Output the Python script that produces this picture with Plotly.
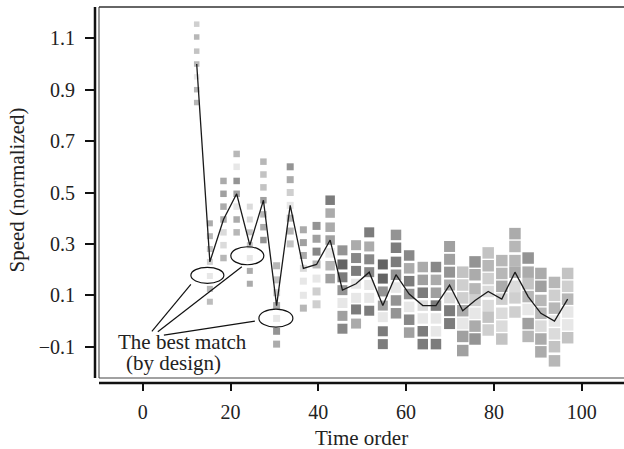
import plotly.graph_objects as go

# ---------------- data ----------------
time = [12.3, 15.3, 18.4, 21.4, 24.4, 27.5, 30.5, 33.6, 36.6, 39.6, 42.7, 45.5, 48.6, 51.6,
        54.7, 57.7, 60.7, 63.8, 66.8, 69.9, 72.9, 75.7, 78.7, 81.8, 84.8, 87.8, 90.7, 93.8, 96.8]

# candidate squares of each column, from top (row1) to bottom (row7)
row1 = [1.155, 0.38, 0.545, 0.65, 0.445, 0.62, 0.215, 0.60, 0.355, 0.37, 0.47, 0.275, 0.295, 0.345,
        0.22, 0.335, 0.255, 0.21, 0.21, 0.29, 0.19, 0.23, 0.265, 0.235, 0.34, 0.245, 0.185, 0.15, None]
row2 = [1.105, 0.33, 0.495, 0.60, 0.395, 0.57, 0.16, 0.55, 0.305, 0.32, 0.42, 0.22, 0.245, 0.29,
        0.165, 0.285, 0.205, 0.16, 0.16, 0.24, 0.14, 0.18, 0.215, 0.185, 0.29, 0.19, 0.135, 0.10, 0.185]
row3 = [1.05, 0.28, 0.445, 0.545, 0.345, 0.52, 0.11, 0.50, 0.255, 0.27, 0.365, 0.17, 0.195, 0.24,
        0.115, 0.23, 0.155, 0.11, 0.11, 0.19, 0.09, 0.125, 0.165, 0.135, 0.235, 0.145, 0.08, 0.05, 0.135]
row4 = [1.0, 0.23, 0.395, 0.495, 0.295, 0.47, 0.06, 0.45, 0.205, 0.22, 0.315, 0.12, 0.145, 0.19,
        0.06, 0.18, 0.105, 0.06, 0.06, 0.14, 0.04, 0.08, 0.115, 0.085, 0.19, 0.095, 0.03, 0.0, 0.085]
row5 = [0.95, 0.175, 0.345, 0.445, 0.245, 0.415, 0.01, 0.40, 0.155, 0.165, 0.265, 0.07, 0.09, 0.14,
        0.015, 0.13, 0.055, 0.01, 0.01, 0.09, -0.01, 0.03, 0.06, 0.03, 0.135, 0.045, -0.02, -0.05, 0.035]
row6 = [0.90, 0.125, 0.295, 0.395, 0.195, 0.365, -0.04, 0.35, 0.10, 0.115, 0.215, 0.02, 0.045, 0.09,
        -0.04, 0.08, 0.005, -0.04, -0.04, 0.04, -0.06, -0.02, 0.015, -0.02, 0.09, -0.01, -0.07, -0.10, -0.015]
row7 = [0.85, 0.075, 0.245, 0.345, 0.145, 0.315, -0.09, 0.30, 0.05, 0.065, 0.165, -0.03, -0.01, 0.04,
        -0.09, 0.03, -0.045, -0.09, -0.09, -0.01, -0.115, -0.07, -0.035, -0.07, 0.035, -0.06, -0.12, -0.155, -0.065]

# line through the selected candidate of each column
selected = row4

# grey shade of each square (0-255)
shade1 = [187, 136, 136, 153, 204, 153, 153, 102, 136, 102, 68, 102, 136, 68, 34, 102, 85, 136, 85, 119,
          170, 102, 170, 153, 136, 102, 136, 153, 170]
shade2 = [153, 153, 119, 221, 204, 170, 170, 136, 119, 119, 136, 34, 85, 136, 34, 68, 136, 119, 136, 119,
          187, 136, 153, 153, 153, 136, 119, 187, 170]
shade3 = [170, 170, 136, 102, 170, 170, 187, 187, 136, 85, 136, 68, 68, 85, 102, 68, 68, 68, 119, 102,
          187, 153, 187, 136, 153, 170, 153, 153, 187]
shade4 = [153, 187, 136, 119, 170, 119, 136, 221, 204, 153, 119, 102, 221, 85, 119, 102, 102, 204, 68, 136,
          136, 187, 204, 187, 136, 153, 153, 221, 153]
shade5 = [221, 221, 204, 221, 221, 153, 221, 153, 221, 221, 221, 221, 221, 221, 221, 221, 221, 221, 221, 204,
          221, 221, 204, 204, 204, 221, 204, 204, 221]
shade6 = [153, 153, 204, 136, 136, 136, 102, 153, 221, 187, 153, 119, 68, 221, 68, 102, 85, 68, 221, 68,
          119, 136, 170, 204, 187, 119, 136, 170, 221]
shade7 = [153, 160, 153, 153, 136, 102, 136, 170, 153, 187, 119, 85, 136, 68, 68, 102, 119, 68, 68, 68,
          119, 102, 187, 170, 187, 153, 136, 153, 170]

x_ticks = [0, 20, 40, 60, 80, 100]
y_ticks = [-0.1, 0.1, 0.3, 0.5, 0.7, 0.9, 1.1]
y_ticktext = ["\u22120.1", "0.1", "0.3", "0.5", "0.7", "0.9", "1.1"]

# ---------------- style ----------------
square_px = [5.5, 6, 6.5, 6.5, 6, 6.5, 7, 7, 7, 8, 9.5, 10, 10, 10, 10, 10.5, 10.5, 10.5, 10.5, 11,
             11.5, 11.5, 11.5, 11.5, 11.5, 11.5, 11.5, 11.5, 11.5]
FONT = "Liberation Serif, Times New Roman, serif"
TXT = "#222222"

rows = [row1, row2, row3, row4, row5, row6, row7]
shades = [shade1, shade2, shade3, shade4, shade5, shade6, shade7]

fig = go.Figure()
for r, s in zip(rows, shades):
    fig.add_trace(go.Scatter(
        x=time, y=r, mode="markers", hoverinfo="skip", showlegend=False,
        marker=dict(symbol="square", size=square_px,
                    color=[f"rgb({g},{g},{g})" for g in s], line=dict(width=0)),
    ))

fig.add_trace(go.Scatter(x=time, y=selected, mode="lines", showlegend=False,
                         line=dict(color="#1a1a1a", width=1.3)))

# geometry of plot area in pixels
W, H = 624, 449
L, R, T, B = 95, 0, 7, 66
pw, ph = W - L - R, H - T - B
box_dx = 4 / pw   # inner thin frame offset
box_dy = 5 / ph

shapes = [
    # thick axis lines
    dict(type="line", xref="paper", yref="paper", x0=0, x1=0, y0=box_dy, y1=1,
         line=dict(color="#111", width=2.5)),
    dict(type="line", xref="paper", yref="paper", x0=box_dx, x1=1, y0=0, y1=0,
         line=dict(color="#111", width=2.5)),
    # thin frame
    dict(type="line", xref="paper", yref="paper", x0=box_dx, x1=box_dx, y0=box_dy, y1=1,
         line=dict(color="#444", width=1.1)),
    dict(type="line", xref="paper", yref="paper", x0=box_dx, x1=1, y0=box_dy, y1=box_dy,
         line=dict(color="#444", width=1.1)),
    dict(type="line", xref="paper", yref="paper", x0=box_dx, x1=1, y0=1, y1=1,
         line=dict(color="#333", width=1.6)),
]

# ellipses around the designed best matches and leader lines (pixel offsets from the square)
marks = [
    (1, (-19, 14, -7.3, 8.7), (-58, -55.3, -19, -8.3)),
    (4, (-19, 14, -6.7, 11.3), (-92, -73.7, -8, -8.7)),
    (6, (-17.7, 16.3, -8.7, 9.3), (-112.7, -16.7, -21.7, -2.7)),
]
for idx, (ex0, ex1, ey0, ey1), (lx0, ly0, lx1, ly1) in marks:
    ax, ay = time[idx], row5[idx]
    shapes.append(dict(type="circle", xref="x", yref="y", xsizemode="pixel", ysizemode="pixel",
                       xanchor=ax, yanchor=ay, x0=ex0, x1=ex1, y0=ey0, y1=ey1,
                       line=dict(color="#111", width=1.2)))
    shapes.append(dict(type="line", xref="x", yref="y", xsizemode="pixel", ysizemode="pixel",
                       xanchor=ax, yanchor=ay, x0=lx0, x1=lx1, y0=ly0, y1=ly1,
                       line=dict(color="#111", width=1.2)))

def px_x(p):
    return (p - L) / pw

def px_y(p):
    return (H - B - p) / ph

annotations = [
    dict(text="The best match", xref="paper", yref="paper", x=px_x(116), y=px_y(342),
         xanchor="left", yanchor="middle", showarrow=False, font=dict(family=FONT, size=21, color=TXT)),
    dict(text="(by design)", xref="paper", yref="paper", x=px_x(124), y=px_y(363),
         xanchor="left", yanchor="middle", showarrow=False, font=dict(family=FONT, size=21, color=TXT)),
    dict(text="Time order", xref="paper", yref="paper", x=px_x(361), y=px_y(437.5),
         xanchor="center", yanchor="middle", showarrow=False, font=dict(family=FONT, size=21, color=TXT)),
    dict(text="Speed (normalized)", xref="paper", yref="paper", x=px_x(17), y=px_y(190.5),
         xanchor="center", yanchor="middle", textangle=-90, showarrow=False,
         font=dict(family=FONT, size=21, color=TXT)),
]

# axis ranges from the calibrated pixel scale
x_per_px = 1 / 4.39
y_per_px = 1 / 257.0
x_min = 0 - (142.7 - L) * x_per_px
x_max = 0 + (W - R - 142.7) * x_per_px
y_min = 1.1 - ((H - B) - 38.3) * y_per_px
y_max = 1.1 + (38.3 - T) * y_per_px

fig.update_layout(
    width=W, height=H, margin=dict(l=L, r=R, t=T, b=B, pad=0),
    paper_bgcolor="white", plot_bgcolor="white",
    shapes=shapes, annotations=annotations, showlegend=False,
    xaxis=dict(range=[x_min, x_max], tickvals=x_ticks, ticks="outside", ticklen=7, tickwidth=2,
               tickcolor="#111", showgrid=False, zeroline=False, showline=False,
               tickfont=dict(family=FONT, size=20, color=TXT), ticklabelstandoff=4),
    yaxis=dict(range=[y_min, y_max], tickvals=y_ticks, ticktext=y_ticktext, ticks="outside",
               ticklen=9, tickwidth=2, tickcolor="#111", showgrid=False, zeroline=False,
               showline=False, tickfont=dict(family=FONT, size=20, color=TXT), ticklabelstandoff=6),
)

fig.write_html("out.html", config={"displayModeBar": False},
               post_script="document.body.style.margin='0';document.body.style.padding='0';")
